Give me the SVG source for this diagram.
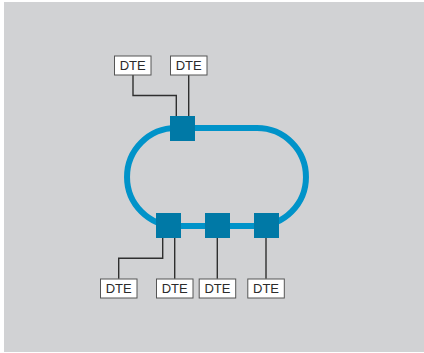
<svg xmlns="http://www.w3.org/2000/svg" width="424" height="353" viewBox="0 0 424 353">
<style>
.dte rect{fill:#fff;stroke:#555;stroke-width:1}
.dte text{font-family:"Liberation Sans",Arial,sans-serif;font-size:13px;fill:#2b2b2b;text-anchor:middle}
.node rect{fill:#0079a6}
.wire{fill:none;stroke:#2f2f2f;stroke-width:1.4}
.ring{fill:none;stroke:#0093c9;stroke-width:6}
</style>
<rect x="4" y="2" width="420" height="350" fill="#d1d2d4"/>
<g id="connectors">
<path class="ring" d="M176,128 H257 A49,49 0 0 1 257,226 H176 A49,49 0 0 1 176,128 Z"/>
<path class="wire" d="M133,75 V95.5 H176.3 V116"/>
<path class="wire" d="M188.7,75 V116"/>
<path class="wire" d="M162.7,237.5 V258.3 H118.7 V278.7"/>
<path class="wire" d="M174.7,237.5 V278.7"/>
<path class="wire" d="M217.3,237.5 V278.7"/>
<path class="wire" d="M266,237.5 V278.7"/>
</g>
<g id="node-top" class="node"><rect x="170" y="116" width="25" height="25"/></g>
<g id="node-b1" class="node"><rect x="156" y="213" width="25" height="25"/></g>
<g id="node-b2" class="node"><rect x="205" y="213" width="25" height="25"/></g>
<g id="node-b3" class="node"><rect x="254" y="213" width="25" height="25"/></g>
<g id="dte-t1" class="dte"><rect x="114.5" y="56" width="36.5" height="19"/><text x="132.7" y="70.3">DTE</text></g>
<g id="dte-t2" class="dte"><rect x="170.5" y="56" width="36.5" height="19"/><text x="188.7" y="70.3">DTE</text></g>
<g id="dte-b1" class="dte"><rect x="100.5" y="279" width="36.5" height="19"/><text x="118.7" y="293.3">DTE</text></g>
<g id="dte-b2" class="dte"><rect x="156.5" y="279" width="36.5" height="19"/><text x="174.7" y="293.3">DTE</text></g>
<g id="dte-b3" class="dte"><rect x="199.2" y="279" width="36.5" height="19"/><text x="217.4" y="293.3">DTE</text></g>
<g id="dte-b4" class="dte"><rect x="247.8" y="279" width="36.5" height="19"/><text x="266" y="293.3">DTE</text></g>
</svg>
